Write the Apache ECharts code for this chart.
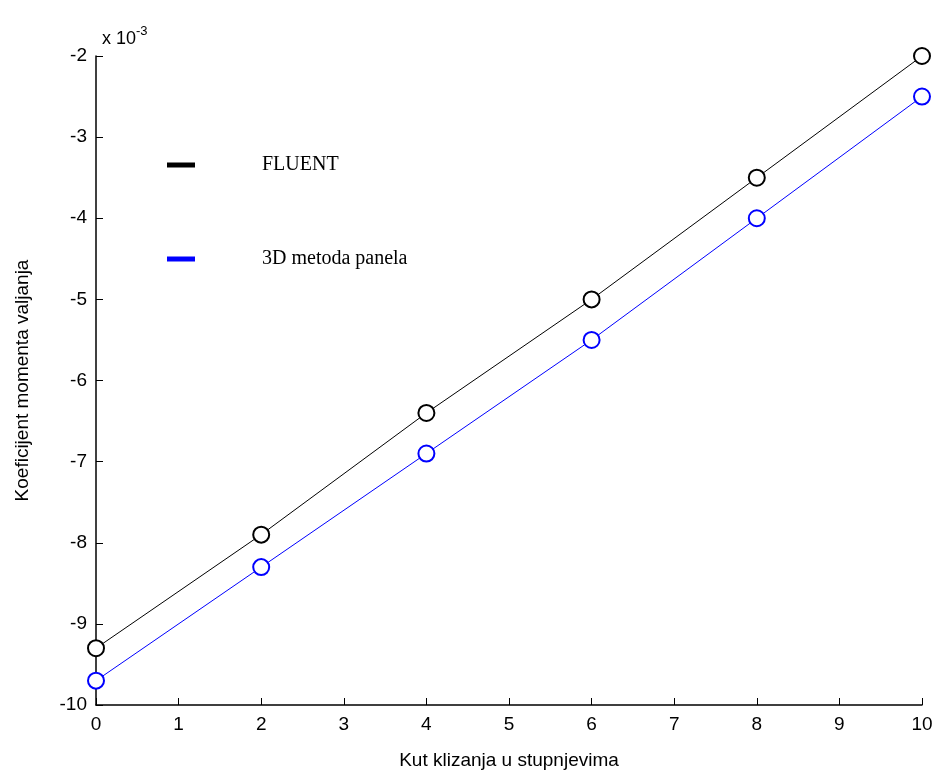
<!DOCTYPE html>
<html>
<head>
<meta charset="utf-8">
<script src="https://cdn.jsdelivr.net/npm/echarts@6/dist/echarts.min.js"></script>
<style>html,body{margin:0;padding:0;background:#fff;}#c{width:938px;height:777px;}</style>
</head>
<body>
<div id="c"></div>
<script>
const angles = [0, 2, 4, 6, 8, 10];
const fluent = [-9.3, -7.9, -6.4, -5.0, -3.5, -2.0];
const panel = [-9.7, -8.3, -6.9, -5.5, -4.0, -2.5];
const seriesNames = ['FLUENT', '3D metoda panela'];

const chart = echarts.init(document.getElementById('c'));
const axisFont = {fontFamily: 'Liberation Sans', fontSize: 19, color: '#000'};
chart.setOption({
  animation: false,
  backgroundColor: '#fff',
  title: {
    text: 'x 10{sup|-3}',
    left: 97, top: 20,
    textStyle: {fontFamily: 'Liberation Sans', fontSize: 18, fontWeight: 'normal', color: '#000',
      rich: {sup: {fontFamily: 'Liberation Sans', fontSize: 13, color: '#000', verticalAlign: 'top', padding: [0,0,16,0]}}}
  },
  legend: {
    orient: 'vertical', left: 162, top: 150, itemGap: 74,
    icon: 'rect', itemWidth: 28, itemHeight: 5,
    textStyle: {fontFamily: 'Liberation Serif', fontSize: 20, color: '#000', padding: [0,0,0,62]},
    data: seriesNames
  },
  grid: {left: 96, right: 16, top: 56, bottom: 72, containLabel: false},
  xAxis: {
    type: 'value', min: 0, max: 10, interval: 1,
    name: 'Kut klizanja u stupnjevima', nameLocation: 'middle', nameGap: 46,
    nameTextStyle: axisFont,
    axisLine: {show: true, onZero: false, lineStyle: {color: '#000', width: 1.5}},
    axisTick: {show: true, inside: true, length: 7, lineStyle: {color: '#000'}},
    axisLabel: Object.assign({margin: 10}, axisFont),
    splitLine: {show: false}
  },
  yAxis: {
    type: 'value', min: -10, max: -2, interval: 1,
    name: 'Koeficijent momenta valjanja', nameLocation: 'middle', nameGap: 64,
    nameTextStyle: axisFont,
    axisLine: {show: true, onZero: false, lineStyle: {color: '#000', width: 1.5}},
    axisTick: {show: true, inside: true, length: 7, lineStyle: {color: '#000'}},
    axisLabel: Object.assign({margin: 9}, axisFont),
    splitLine: {show: false}
  },
  series: [
    {name: seriesNames[0], type: 'line', data: angles.map((a,i)=>[a, fluent[i]]),
     symbol: 'emptyCircle', symbolSize: 16, color: '#000',
     lineStyle: {color: '#000', width: 1}, itemStyle: {color: '#000', borderWidth: 1.2}},
    {name: seriesNames[1], type: 'line', data: angles.map((a,i)=>[a, panel[i]]),
     symbol: 'emptyCircle', symbolSize: 16, color: '#0000ff',
     lineStyle: {color: '#0000ff', width: 1}, itemStyle: {color: '#0000ff', borderWidth: 1.2}}
  ]
});
</script>
</body>
</html>
